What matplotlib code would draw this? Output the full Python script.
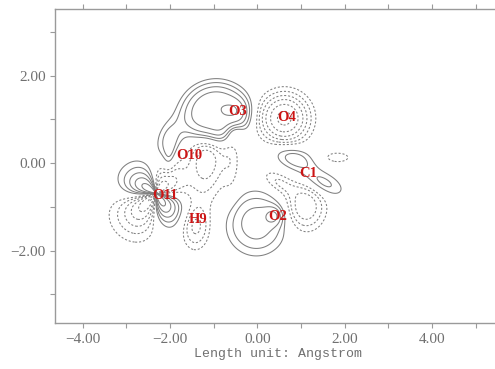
import numpy as np
import matplotlib
matplotlib.use("Agg")
import matplotlib.pyplot as plt

# ---- data: lobes of the density-difference map (Angstrom) ----
# columns: centre x, centre y, amplitude, width along axis a, width along axis b, axis angle (deg), shape exponent
lobe_x     = [-0.95, -0.45, -2.00, -2.02, -0.02,  0.40,  0.85,  1.50,
               0.62,  1.83,  1.10,  0.50, -1.15, -0.50, -0.60, -1.42, -1.20]
lobe_y     = [ 1.14,  1.20,  0.55,  0.08, -1.38, -1.20,  0.12, -0.45,
               1.03,  0.13, -1.00, -0.45,  0.15,  0.70,  0.10, -1.45, -0.50]
lobe_amp   = [ 0.275, 0.07,  0.12,  0.08,  0.17,  0.12,  0.13,  0.12,
              -0.42, -0.07, -0.20, -0.10, -0.16, -0.10, -0.07, -0.16, -0.06]
lobe_sa    = [ 0.62,  0.20,  0.35,  0.28,  0.50,  0.15,  0.35,  0.35,
               0.35,  0.30,  0.30,  0.30,  0.25,  0.15,  0.15,  0.22,  0.30]
lobe_sb    = [ 0.56,  0.20,  0.20,  0.10,  0.52,  0.15,  0.18,  0.17,
               0.35,  0.12,  0.35,  0.15,  0.40,  0.15,  0.60,  0.35,  0.50]
lobe_angle = [ 5, 0, 70, 85, 0, 0, -20, -25,
               0, 0, 0, -30, 0, 0, 0, 0, 0]
lobe_pow   = [ 3.5, 2, 2, 2, 2.5, 2, 2, 2,
               2, 2, 2, 2, 2, 2, 2, 2, 2]

# four-lobed pattern around O11 (lobes meet at one point)
o11_cx, o11_cy = -2.32, -0.69
o11_dir   = [150, 228, 302, 46]          # degrees
o11_amp   = [0.38, -0.42, 0.38, -0.28]
o11_sigma = [0.48, 0.62, 0.46, 0.50]
o11_sharp = 3

atom_names = ["O3", "O4", "O10", "C1", "O11", "H9", "O2"]
atom_x     = [-0.44, 0.68, -1.56, 1.16, -2.11, -1.36, 0.47]
atom_y     = [1.18, 1.04, 0.17, -0.24, -0.75, -1.28, -1.21]

pos_levels = [0.05, 0.09, 0.14, 0.20, 0.28, 0.38, 0.50]
neg_levels = [-0.50, -0.38, -0.28, -0.20, -0.14, -0.09, -0.05]

x_ticks = [-4, -2, 0, 2, 4]
y_ticks = [-2, 0, 2]

# ---- build field ----
gx = np.linspace(-4.6, 5.6, 900)
gy = np.linspace(-3.6, 3.5, 630)
X, Y = np.meshgrid(gx, gy)
Z = np.zeros_like(X)
for cx, cy, a, sa, sb, ang, p in zip(lobe_x, lobe_y, lobe_amp, lobe_sa, lobe_sb, lobe_angle, lobe_pow):
    t = np.deg2rad(ang)
    dx, dy = X - cx, Y - cy
    u = dx * np.cos(t) + dy * np.sin(t)
    v = -dx * np.sin(t) + dy * np.cos(t)
    q = (u / sa) ** 2 + (v / sb) ** 2
    Z += a * np.exp(-0.5 * q ** (p / 2.0))

R = np.hypot(X - o11_cx, Y - o11_cy)
PHI = np.arctan2(Y - o11_cy, X - o11_cx)
for d, a, s in zip(o11_dir, o11_amp, o11_sigma):
    w = np.clip(np.cos(PHI - np.deg2rad(d)), 0, None) ** o11_sharp
    Z += a * w * np.exp(-0.5 * (R / s) ** 2)

fig = plt.figure(figsize=(4.95, 3.69), dpi=100)
ax = fig.add_axes([55 / 495, 46 / 369, 446.8 / 495, 314 / 369])
ax.set_xlim(-4.63, 5.6)
ax.set_ylim(-3.66, 3.53)

line_col = "#808080"
ax.contour(X, Y, Z, levels=pos_levels, colors=line_col, linewidths=0.75, linestyles="solid")
ax.contour(X, Y, Z, levels=neg_levels, colors=line_col, linewidths=0.75,
           linestyles=[(0, (2.0, 1.8))])

for n, x, y in zip(atom_names, atom_x, atom_y):
    ax.text(x, y, n, color="#cc1515", fontsize=10.5, fontweight="bold",
            family="Liberation Serif", ha="center", va="center")

spine_col = "#9a9a9a"
for s in ax.spines.values():
    s.set_color(spine_col)
    s.set_linewidth(1.0)

ax.set_xticks(x_ticks)
ax.set_yticks(y_ticks)
ax.set_xticks([-3, -1, 1, 3, 5], minor=True)
ax.set_yticks([-3, -1, 1, 3], minor=True)
ax.set_xticklabels([f"{v:.2f}".replace("-", "\u2212") for v in x_ticks])
ax.set_yticklabels([f"{v:.2f}".replace("-", "\u2212") for v in y_ticks])
ax.tick_params(which="both", direction="out", length=3.5, width=0.8, color=spine_col,
               top=True, right=True, labelcolor="#707070", labelsize=11)
ax.tick_params(axis="x", pad=4)
ax.tick_params(axis="y", pad=3)
for lab in ax.get_xticklabels() + ax.get_yticklabels():
    lab.set_family("Liberation Serif")

ax.set_xlabel("Length unit: Angstrom", family="Liberation Mono", fontsize=9.5,
              color="#707070", labelpad=1)

fig.savefig("out.png", dpi=100)
